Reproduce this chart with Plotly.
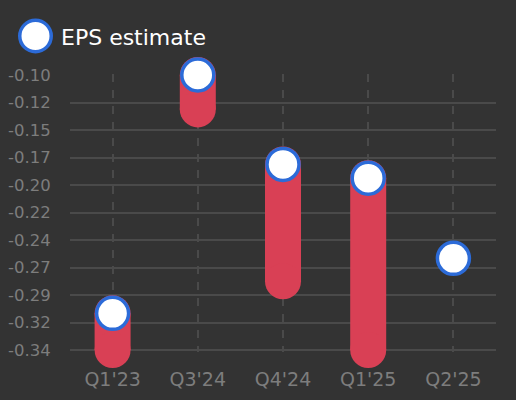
import plotly.graph_objects as go

# data
quarters = ["Q1'23", "Q3'24", "Q4'24", "Q1'25", "Q2'25"]
eps_estimate = [-0.308, -0.10, -0.178, -0.19, -0.26]
eps_low = [-0.34, -0.13, -0.28, -0.34, None]

y_tick_vals = [-0.34, -0.316, -0.292, -0.268, -0.244, -0.22, -0.196, -0.172, -0.148, -0.124, -0.10]
y_tick_text = ["-0.34", "-0.32", "-0.29", "-0.27", "-0.24", "-0.22", "-0.20", "-0.17", "-0.15", "-0.12", "-0.10"]

bg = "#333333"
red = "#d94055"
blue = "#2c6bd8"
grid = "#4a4a4a"
tick_col = "#7d7d7d"
font = "DejaVu Sans"

fig = go.Figure()

# range bars: thick line from estimate down to low, with round caps
bx, by = [], []
cap_x, cap_y = [], []
for q, e, lo in zip(quarters, eps_estimate, eps_low):
    if lo is None:
        continue
    bx += [q, q, None]
    by += [e, lo, None]
    cap_x += [q, q]
    cap_y += [e, lo]

fig.add_trace(go.Scatter(
    x=bx, y=by, mode="lines",
    line=dict(color=red, width=36),
    hoverinfo="skip", showlegend=False
))
fig.add_trace(go.Scatter(
    x=cap_x, y=cap_y, mode="markers",
    marker=dict(size=36, color=red, line=dict(width=0)),
    hoverinfo="skip", showlegend=False, cliponaxis=False
))

# estimate markers
fig.add_trace(go.Scatter(
    x=quarters, y=eps_estimate, mode="markers",
    marker=dict(size=32, color="white", line=dict(color=blue, width=3.5)),
    name="EPS estimate", showlegend=False, cliponaxis=False
))

# hand-made legend (plotly caps legend marker size)
fig.add_shape(
    type="circle", xref="paper", yref="paper",
    xsizemode="pixel", ysizemode="pixel", xanchor=0, yanchor=1,
    x0=-50.25, x1=-18.75, y0=22.25, y1=53.75,
    fillcolor="white", line=dict(color=blue, width=3.5)
)
fig.add_annotation(
    xref="paper", yref="paper", x=-0.0258, y=1.133,
    xanchor="left", yanchor="middle", showarrow=False,
    text="EPS estimate", font=dict(family=font, size=22, color="white")
)

fig.update_layout(
    width=516, height=400,
    margin=dict(l=70, r=20, t=74, b=48),
    paper_bgcolor=bg, plot_bgcolor=bg,
    font=dict(family=font),
    xaxis=dict(
        type="category", range=[-0.5, 4.5], automargin=False,
        showgrid=True, gridcolor=grid, gridwidth=2, griddash="8px,8px",
        zeroline=False, showline=False,
        ticks="outside", ticklen=10, tickcolor="rgba(0,0,0,0)",
        tickfont=dict(family=font, size=19, color=tick_col)
    ),
    yaxis=dict(
        range=[-0.341745, -0.099127], automargin=False,
        tickmode="array", tickvals=y_tick_vals, ticktext=y_tick_text,
        showgrid=True, gridcolor=grid, gridwidth=2,
        zeroline=False, showline=False,
        ticks="outside", ticklen=15, tickcolor="rgba(0,0,0,0)",
        tickfont=dict(family=font, size=16.5, color=tick_col)
    ),
)

fig.write_html("out.html", config={"displayModeBar": False},
               post_script="document.body.style.margin='0';")
